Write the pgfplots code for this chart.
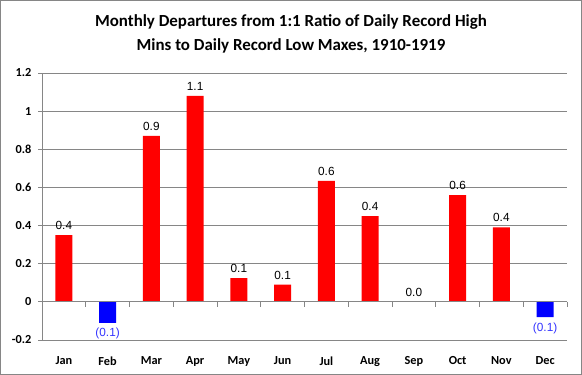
\documentclass[border=0pt]{standalone}
\usepackage{pgfplots}
\pgfplotsset{compat=1.18}
\usepackage{fontspec}
\setmainfont{Carlito}
\newfontfamily\lab{Liberation Sans}
\definecolor{gridgray}{RGB}{134,134,134}
\definecolor{barred}{RGB}{255,0,0}
\definecolor{barblue}{RGB}{0,0,255}
\definecolor{labblue}{RGB}{51,51,255}
\begin{document}
\begin{tikzpicture}[x=1pt,y=1pt]
\useasboundingbox (0,0) rectangle (582,375);
\draw[gridgray,line width=0.8pt] (0.5,0.5) rectangle (581.5,374.5);
\node[align=center,font=\fontsize{16.9}{24}\selectfont\bfseries] at (291,341)
  {Monthly Departures from 1:1 Ratio of Daily Record High\\Mins to Daily Record Low Maxes, 1910-1919};
\begin{axis}[
  at={(42pt,35pt)}, anchor=south west,
  scale only axis, width=525pt, height=267pt,
  xmin=-0.5, xmax=11.5, ymin=-0.2, ymax=1.2,
  axis y line*=left, axis x line*=bottom,
  x axis line style={draw=none},
  y axis line style={gridgray, line width=0.8pt},
  xtick={0,1,...,11},
  xticklabels={Jan,Feb,Mar,Apr,May,Jun,Jul,Aug,Sep,Oct,Nov,Dec},
  xtick style={draw=none},
  ytick={-0.2,0,0.2,0.4,0.6,0.8,1,1.2},
  yticklabels={-0.2,0,0.2,0.4,0.6,0.8,1,1.2},
  ytick style={gridgray, line width=0.8pt},
  tick align=outside, major tick length=4pt,
  ymajorgrids, grid style={gridgray, line width=0.8pt},
  ticklabel style={font=\fontsize{12.3}{14}\selectfont\bfseries},
  xticklabel style={yshift=-9pt},
  yticklabel style={xshift=-3pt},
  ybar, bar shift=0pt, bar width=17pt,
  point meta=explicit symbolic,
  nodes near coords,
  clip=false,
]
\addplot[fill=barred, draw=none,
  nodes near coords style={font=\lab\fontsize{11.8}{13}\selectfont, text=black, anchor=south, yshift=2pt}]
  coordinates {
  (0,0.35) [0.4]
  (2,0.87) [0.9]
  (3,1.08) [1.1]
  (4,0.125) [0.1]
  (5,0.09) [0.1]
  (6,0.635) [0.6]
  (7,0.45) [0.4]
  (8,0.0) [0.0]
  (9,0.56) [0.6]
  (10,0.39) [0.4]
};
\addplot[fill=barblue, draw=none,
  nodes near coords style={font=\lab\fontsize{11.8}{13}\selectfont, text=labblue, anchor=north, yshift=-2pt}]
  coordinates {
  (1,-0.11) [(0.1)]
  (11,-0.08) [(0.1)]
};
\draw[gridgray, line width=0.8pt] (axis cs:-0.5,0) -- (axis cs:11.5,0);
\pgfplotsinvokeforeach{0.5,1.5,...,11.5}{
  \draw[gridgray, line width=0.8pt] (axis cs:#1,0) -- ++(0pt,-5pt);
}
\end{axis}
\end{tikzpicture}
\end{document}
